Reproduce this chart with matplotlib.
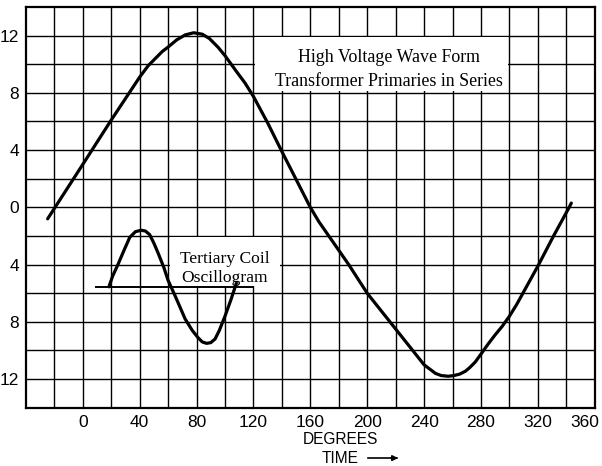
import matplotlib.pyplot as plt
from matplotlib.patches import Rectangle
from matplotlib.transforms import ScaledTranslation
import numpy as np

# high voltage wave (degrees, value)
hv_deg = [-24.7, 0, 20, 40, 46, 52, 56, 60, 66, 72, 78, 84, 89, 95, 100, 108,
          114, 120, 130, 140, 150, 160, 166, 173, 187, 200, 216, 232, 236,
          240, 244, 248, 252, 257, 261, 265, 269, 272, 276, 280, 285, 290,
          295, 300, 305, 310, 315, 320, 331, 342, 343.5]
hv_val = [-0.8, 3.0, 6.1, 9.1, 9.9, 10.5, 10.9, 11.2, 11.7, 12.05, 12.2, 12.1,
          11.8, 11.2, 10.6, 9.5, 8.7, 7.75, 5.9, 3.9, 1.95, 0.0, -1.0, -2.0,
          -4.0, -6.0, -8.0, -10.0, -10.5, -11.0, -11.3, -11.6, -11.75, -11.8,
          -11.75, -11.65, -11.45, -11.2, -10.8, -10.25, -9.55, -8.9, -8.3,
          -7.6, -6.8, -5.9, -5.0, -4.1, -2.0, 0.0, 0.3]

# tertiary coil oscillogram
tc_deg = [18.4, 21, 24.7, 29, 33, 37, 41, 44, 47, 50, 53, 57, 60, 65, 72, 77,
          81, 84, 87, 90, 93, 96, 100, 104, 108]
tc_val = [-5.55, -4.8, -4.0, -3.0, -2.1, -1.7, -1.6, -1.65, -1.9, -2.5, -3.2,
          -4.2, -5.1, -6.2, -7.8, -8.6, -9.1, -9.4, -9.5, -9.45, -9.2, -8.6,
          -7.6, -6.5, -5.3]
tc_base = [9, 120]
tc_base_val = -5.55

xticks = [0, 40, 80, 120, 160, 200, 240, 280, 320, 360]
yticks = [12, 8, 4, 0, -4, -8, -12]
ylabels = ["12", "8", "4", "0", "4", "8", "12"]

fig = plt.figure(figsize=(6.02, 4.66), dpi=100)
ax = fig.add_axes([0.043, 0.125, 0.945, 0.86])

ax.set_xlim(-40, 360)
ax.set_ylim(-14, 14)
ax.grid(True, color="black", linewidth=1.0)
ax.set_axisbelow(True)

xgrid = np.arange(-20, 361, 20)
ygrid = np.arange(-12, 13, 2)
ax.set_xticks(xgrid)
ax.set_xticklabels([str(t) if t in xticks else "" for t in xgrid],
                   fontsize=12.5, family="Liberation Sans")
ax.set_yticks(ygrid)
ax.set_yticklabels([ylabels[yticks.index(t)] if t in yticks else "" for t in ygrid],
                   fontsize=12.5, family="Liberation Sans")
ax.tick_params(length=0, pad=5)
for s in ax.spines.values():
    s.set_linewidth(1.6)

# last label sits inside the frame in the original
lbl = ax.get_xticklabels()[-1]
lbl.set_horizontalalignment("right")
lbl.set_transform(lbl.get_transform() + ScaledTranslation(4 / 100, 0, fig.dpi_scale_trans))

# white label boxes covering the grid
ax.add_patch(Rectangle((121, 8.1), 178, 3.8, facecolor="white", edgecolor="none", zorder=1))
ax.add_patch(Rectangle((61, -5.5), 78, 3.4, facecolor="white", edgecolor="none", zorder=1))

ax.plot(hv_deg, hv_val, color="black", linewidth=2.3, zorder=3,
        solid_joinstyle="round", solid_capstyle="round")
ax.plot(tc_deg, tc_val, color="black", linewidth=2.3, zorder=3,
        solid_joinstyle="round", solid_capstyle="round")
ax.plot(tc_base, [tc_base_val, tc_base_val], color="black", linewidth=1.4, zorder=3)

ax.text(215, 9.65, "High Voltage Wave Form\nTransformer Primaries in Series",
        ha="center", va="center", fontsize=12.9, family="Liberation Serif",
        linespacing=1.55, zorder=4)
ax.text(100, -4.3, "Tertiary Coil\nOscillogram",
        ha="center", va="center", fontsize=12.6, family="Liberation Serif",
        linespacing=1.25, zorder=4)

fig.text(0.565, 0.056, "DEGREES", ha="center", va="center", fontsize=11.2, family="Liberation Sans")
fig.text(0.565, 0.017, "TIME", ha="center", va="center", fontsize=11.2, family="Liberation Sans")
fig.add_artist(plt.Line2D([0.611, 0.66], [0.017, 0.017], color="black", linewidth=1.2))
ax.annotate("", xy=(0.666, 0.017), xytext=(0.645, 0.017), xycoords="figure fraction",
            arrowprops=dict(arrowstyle="-|>", color="black", lw=1.2, mutation_scale=8))

fig.savefig("out.png", dpi=100)
